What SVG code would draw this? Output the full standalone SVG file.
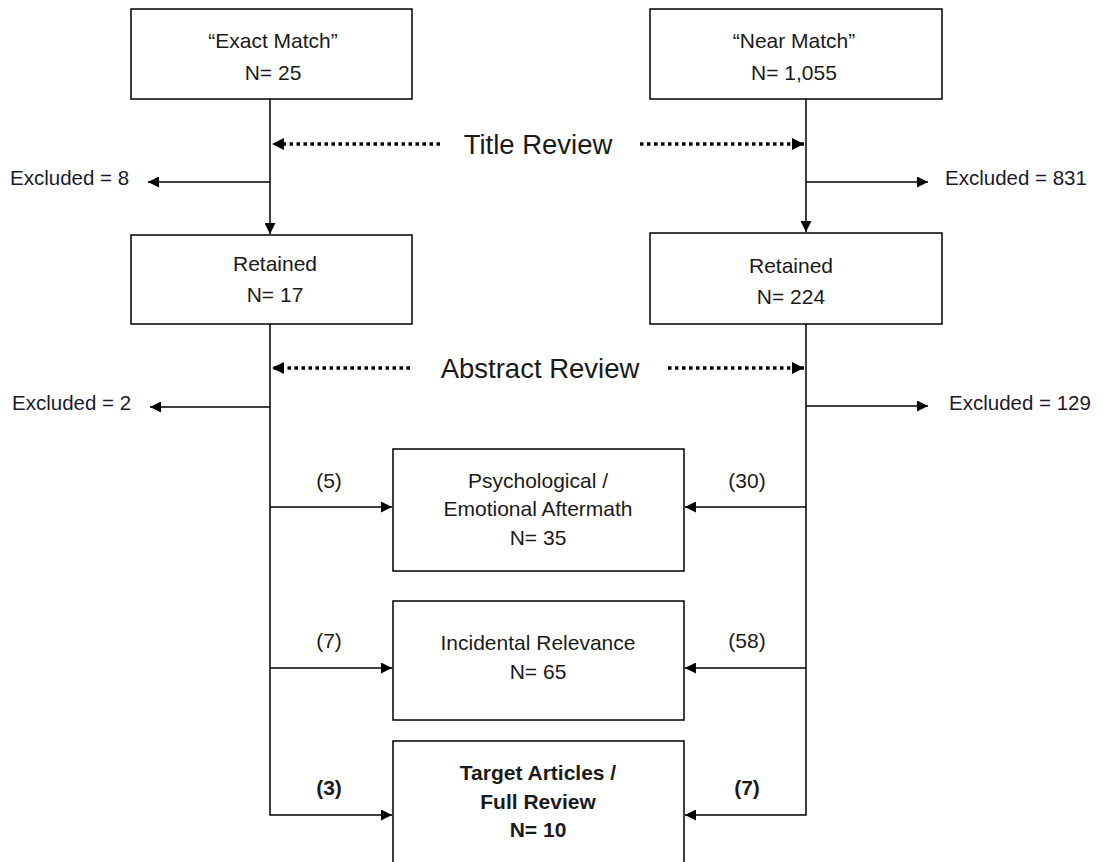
<svg xmlns="http://www.w3.org/2000/svg" width="1099" height="862" viewBox="0 0 1099 862">
<defs>
<marker id="ah" viewBox="0 0 10 10" refX="10" refY="5" markerWidth="13" markerHeight="11" markerUnits="userSpaceOnUse" orient="auto"><path d="M0,0 L10,5 L0,10 z" fill="#000"/></marker>
<marker id="ahb" viewBox="0 0 10 10" refX="10" refY="5" markerWidth="13" markerHeight="12" markerUnits="userSpaceOnUse" orient="auto"><path d="M0,0 L10,5 L0,10 z" fill="#000"/></marker>
</defs>
<style>
.box{fill:#fff;stroke:#000;stroke-width:1.5}
.t{font-family:"Liberation Sans",Arial,sans-serif;font-size:21px;fill:#1a1a1a;text-anchor:middle}
.b{font-weight:bold}
.ex{font-family:"Liberation Sans",Arial,sans-serif;font-size:20.5px;fill:#1a1a2e}
.rev{font-family:"Liberation Sans",Arial,sans-serif;font-size:27.5px;fill:#1a1a1a;text-anchor:middle}
.ln{stroke:#000;stroke-width:1.5;fill:none}
.dot{stroke:#000;stroke-width:3.5;stroke-dasharray:3.5 3.5;fill:none}
</style>
<rect width="1099" height="862" fill="#fff"/>
<g id="connectors">
<line class="ln" x1="270" y1="99" x2="270" y2="234" marker-end="url(#ah)"/>
<line class="ln" x1="806" y1="99" x2="806" y2="232" marker-end="url(#ah)"/>
<line class="ln" x1="270" y1="182" x2="148" y2="182" marker-end="url(#ah)"/>
<line class="ln" x1="806" y1="182" x2="928" y2="182" marker-end="url(#ah)"/>
<line class="dot" x1="440" y1="144" x2="272" y2="144" marker-end="url(#ahb)"/>
<line class="dot" x1="640" y1="144" x2="804" y2="144" marker-end="url(#ahb)"/>
<line class="dot" x1="410" y1="368" x2="272" y2="368" marker-end="url(#ahb)"/>
<line class="dot" x1="668" y1="368" x2="804" y2="368" marker-end="url(#ahb)"/>
<polyline class="ln" points="270,324 270,815 392,815" marker-end="url(#ah)"/>
<polyline class="ln" points="806,324 806,815 685,815" marker-end="url(#ah)"/>
<line class="ln" x1="270" y1="407" x2="150" y2="407" marker-end="url(#ah)"/>
<line class="ln" x1="806" y1="406" x2="928" y2="406" marker-end="url(#ah)"/>
<line class="ln" x1="270" y1="507" x2="392" y2="507" marker-end="url(#ah)"/>
<line class="ln" x1="806" y1="507" x2="685" y2="507" marker-end="url(#ah)"/>
<line class="ln" x1="270" y1="668" x2="392" y2="668" marker-end="url(#ah)"/>
<line class="ln" x1="806" y1="668" x2="685" y2="668" marker-end="url(#ah)"/>
<text class="rev" x="538" y="154">Title Review</text>
<text class="rev" x="540" y="378">Abstract Review</text>
<text class="ex" x="10" y="185">Excluded = 8</text>
<text class="ex" x="945" y="185">Excluded = 831</text>
<text class="ex" x="12" y="410">Excluded = 2</text>
<text class="ex" x="949" y="410">Excluded = 129</text>
<text class="t" x="329" y="488">(5)</text>
<text class="t" x="747" y="488">(30)</text>
<text class="t" x="329" y="648">(7)</text>
<text class="t" x="747" y="648">(58)</text>
<text class="t b" x="329" y="795">(3)</text>
<text class="t b" x="747" y="795">(7)</text>
</g>
<g id="exact">
<rect class="box" x="131" y="9" width="281" height="90"/>
<text class="t" x="273" y="48">“Exact Match”</text>
<text class="t" x="273" y="80">N= 25</text>
</g>
<g id="near">
<rect class="box" x="650" y="9" width="292" height="90"/>
<text class="t" x="794" y="48">“Near Match”</text>
<text class="t" x="794" y="80">N= 1,055</text>
</g>
<g id="retained-left">
<rect class="box" x="131" y="235" width="281" height="89"/>
<text class="t" x="275" y="271">Retained</text>
<text class="t" x="275" y="302">N= 17</text>
</g>
<g id="retained-right">
<rect class="box" x="650" y="233" width="292" height="91"/>
<text class="t" x="791" y="273">Retained</text>
<text class="t" x="791" y="304">N= 224</text>
</g>
<g id="psych">
<rect class="box" x="393" y="449" width="291" height="122"/>
<text class="t" x="538" y="488">Psychological /</text>
<text class="t" x="538" y="516">Emotional Aftermath</text>
<text class="t" x="538" y="545">N= 35</text>
</g>
<g id="incidental">
<rect class="box" x="393" y="601" width="291" height="119"/>
<text class="t" x="538" y="650">Incidental Relevance</text>
<text class="t" x="538" y="679">N= 65</text>
</g>
<g id="target">
<rect class="box" x="393" y="741" width="291" height="130"/>
<text class="t b" x="538" y="780">Target Articles /</text>
<text class="t b" x="538" y="809">Full Review</text>
<text class="t b" x="538" y="837">N= 10</text>
</g>
</svg>
